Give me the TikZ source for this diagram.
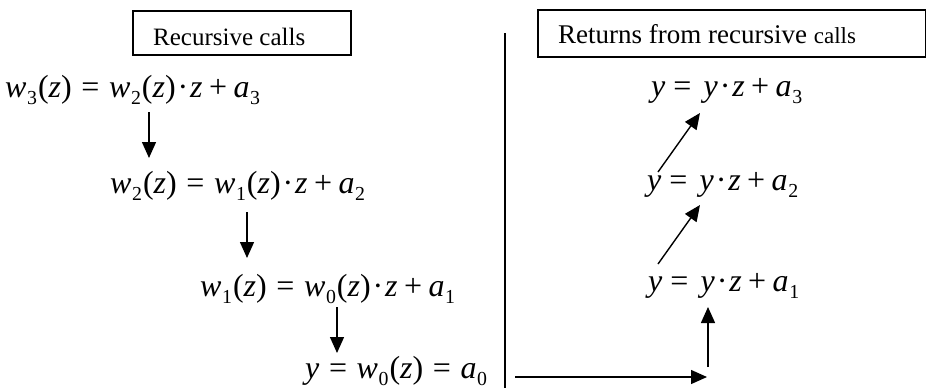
\documentclass[tikz,border=0pt]{standalone}
\usepackage{fontspec}
\usepackage{graphicx}
\setmainfont{Liberation Serif}
\usetikzlibrary{arrows.meta}
\newcommand{\vi}[1]{\textit{#1}}
\newcommand{\sbs}[1]{\hspace{0.02em}\raisebox{-0.24em}{\scalebox{0.62}{#1}}\hspace{0.03em}}
\newcommand{\eqs}{\hspace{0.3em}=\hspace{0.3em}}
\newcommand{\eqy}{\hspace{0.25em}=\hspace{0.38em}}
\newcommand{\pls}{\hspace{0.2em}+\hspace{0.2em}}
\newcommand{\cdt}{\hspace{0.06em}·\hspace{0.06em}}
\begin{document}
\begin{tikzpicture}[x=1pt,y=-1pt,
  eqn/.style={anchor=base west,inner sep=0pt,font=\fontsize{32}{34}\selectfont},
  lbl/.style={anchor=base west,inner sep=0pt},
  frame/.style={draw,line width=1.3pt},
  arr/.style={line width=1.4pt,-{Triangle[width=14pt,length=16pt]}},
  sep/.style={line width=2pt}]
\useasboundingbox (0,0) rectangle (927,389);
% left header
\draw[frame] (133,11) rectangle (351,55);
\node[lbl,font=\fontsize{25}{28}\selectfont] (lhead) at (153,45) {Recursive calls};
% right header
\draw[frame] (538,10) rectangle (925.5,57);
\node[lbl,font=\fontsize{27}{30}\selectfont] (rhead) at (558,43) {Returns from recursive {\fontsize{23}{26}\selectfont calls}};
% left equations
\node[eqn] (l1) at (5,97) {\vi{w}\sbs{3}(\vi{z})\eqs\vi{w}\sbs{2}(\vi{z})\cdt\vi{z}\pls\vi{a}\sbs{3}};
\node[eqn] (l2) at (110,193) {\vi{w}\sbs{2}(\vi{z})\eqs\vi{w}\sbs{1}(\vi{z})\cdt\vi{z}\pls\vi{a}\sbs{2}};
\node[eqn] (l3) at (200,296) {\vi{w}\sbs{1}(\vi{z})\eqs\vi{w}\sbs{0}(\vi{z})\cdt\vi{z}\pls\vi{a}\sbs{1}};
\node[eqn] (l4) at (305,378) {\vi{y}\eqs\vi{w}\sbs{0}(\vi{z})\eqs\vi{a}\sbs{0}};
% right equations
\node[eqn] (r1) at (651,96) {\vi{y}\eqy\vi{y}\cdt\vi{z}\pls\vi{a}\sbs{3}};
\node[eqn] (r2) at (647,190) {\vi{y}\eqy\vi{y}\cdt\vi{z}\pls\vi{a}\sbs{2}};
\node[eqn] (r3) at (648,291) {\vi{y}\eqy\vi{y}\cdt\vi{z}\pls\vi{a}\sbs{1}};
% separator
\coordinate (st) at (505,33);
\coordinate (sb) at (505,388);
\draw[sep] (st) -- (sb);
% arrows left
\coordinate (a1s) at (149,112); \coordinate (a1e) at (149,158);
\coordinate (a2s) at (247,212); \coordinate (a2e) at (247,258);
\coordinate (a3s) at (337,307); \coordinate (a3e) at (337,353);
\draw[arr] (a1s) -- (a1e);
\draw[arr] (a2s) -- (a2e);
\draw[arr] (a3s) -- (a3e);
% arrows right
\coordinate (h1) at (515,377); \coordinate (h2) at (707,377);
\draw[arr] (h1) -- (h2);
\coordinate (u1) at (708,367); \coordinate (u2) at (708,307);
\draw[arr] (u1) -- (u2);
\coordinate (d1s) at (658,264); \coordinate (d1e) at (700,205);
\draw[arr] (d1s) -- (d1e);
\coordinate (d2s) at (658,172); \coordinate (d2e) at (700,113);
\draw[arr] (d2s) -- (d2e);
\end{tikzpicture}
\end{document}
